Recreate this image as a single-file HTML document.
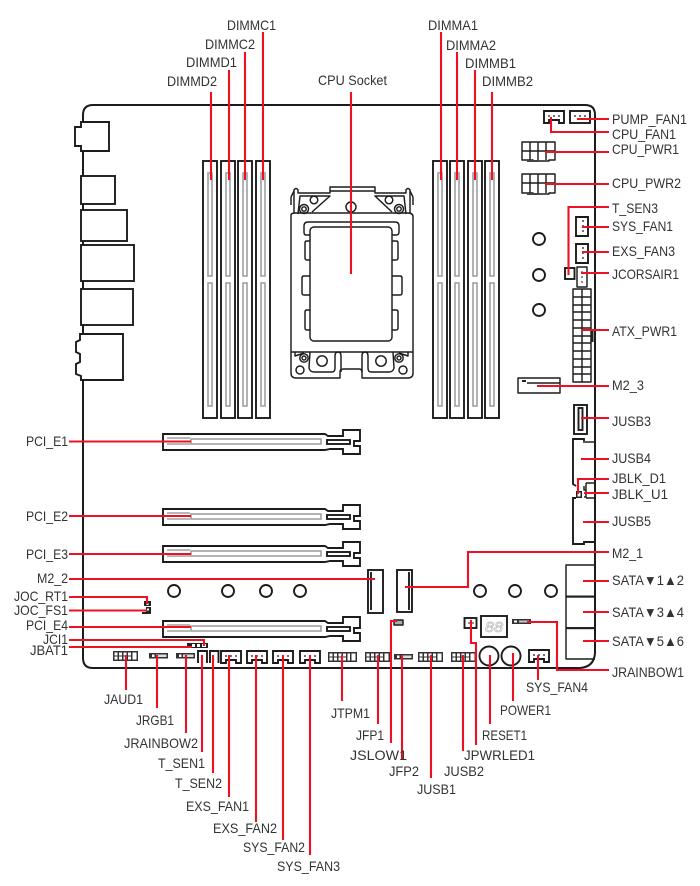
<!DOCTYPE html>
<html><head><meta charset="utf-8"><style>
html,body{margin:0;padding:0;background:#fff;width:700px;height:886px;overflow:hidden}
svg{display:block}
text{font-family:"Liberation Sans",sans-serif;font-size:13.8px;fill:#333}
.k{fill:none;stroke:#1c1c1c;stroke-width:1.45;stroke-linejoin:round}
.k2{fill:none;stroke:#1c1c1c;stroke-width:1.9;stroke-linejoin:miter}
.b{fill:none;stroke:#1c1c1c;stroke-width:2}
.g{fill:none;stroke:#a0a0a0;stroke-width:1.6}
.r{fill:none;stroke:#ee1122;stroke-width:2.1}
.h{fill:#333}
</style></head><body>
<svg width="700" height="886" viewBox="0 0 700 886" xmlns="http://www.w3.org/2000/svg">
<defs>
<g id="dimm"><rect class="k2" x="0" y="0" width="14" height="257"/><rect class="g" x="5" y="12" width="4" height="103"/><rect class="g" x="5" y="122" width="4" height="123"/></g>
<g id="pci"><path class="k2" d="M163,434H325L328,436H343V430H360V441H354V446H360V454H343V449H330L325,450H163Z"/><rect class="k2" x="327" y="440" width="23" height="4"/><rect class="g" x="191" y="439" width="130" height="5"/><path class="g" d="M167,438H190M167,444H190"/></g>
<g id="fan"><path class="k2" d="M0,12V0H20V12H15V9H5V12Z"/><circle cx="5" cy="5" r="1" fill="#444"/><circle cx="10" cy="5" r="1" fill="#444"/><circle cx="15" cy="5" r="1" fill="#444"/></g>
<g id="fanv"><path class="k2" d="M0,0H12V19H0V0Z"/><circle cx="7" cy="4" r="1" fill="#444"/><circle cx="7" cy="9" r="1" fill="#444"/><circle cx="7" cy="14" r="1" fill="#444"/></g>
<g id="hdr"><rect class="h" x="0" y="0" width="25" height="10"/><rect x="1.5" y="1.5" width="3" height="3" fill="#fff"/><rect x="1.5" y="5.5" width="3" height="3" fill="#fff"/><rect x="6" y="1.5" width="3" height="3" fill="#fff"/><rect x="6" y="5.5" width="3" height="3" fill="#fff"/><rect x="10.5" y="1.5" width="3" height="3" fill="#fff"/><rect x="10.5" y="5.5" width="3" height="3" fill="#fff"/><rect x="15" y="1.5" width="3" height="3" fill="#fff"/><rect x="15" y="5.5" width="3" height="3" fill="#fff"/><rect x="19.5" y="1.5" width="4" height="7" fill="#fff"/></g>
<g id="rgb"><rect x="0" y="0" width="19" height="5.5" fill="#333"/><rect x="3" y="1.5" width="2.5" height="2.5" fill="#fff"/><rect x="7" y="1.5" width="10.5" height="2.5" fill="#ddd"/></g>
</defs>

<!-- board outline -->
<path class="b" d="M83,122V115Q83,105 93,105H585Q595,105 595,115V653Q594,667 580,668H93Q83,668 83,658V122"/>

<!-- rear IO -->
<path class="k2" style="fill:#fff" d="M81,122H109V151H81V146H75V127H81Z"/>
<rect class="k2" style="fill:#fff" x="81" y="176" width="34" height="28"/>
<rect class="k2" style="fill:#fff" x="81" y="210" width="46" height="31"/>
<rect class="k2" style="fill:#fff" x="81" y="245" width="53" height="36"/>
<rect class="k2" style="fill:#fff" x="81" y="289" width="52" height="36"/>
<path class="k2" style="fill:#fff" d="M80,334H123V380H81V376L76,374V364L80,362V354L76,352V342L80,340Z"/>

<!-- DIMMs -->
<use href="#dimm" x="203" y="161"/><use href="#dimm" x="221" y="161"/><use href="#dimm" x="238" y="161"/><use href="#dimm" x="256" y="161"/>
<use href="#dimm" x="433" y="161"/><use href="#dimm" x="450" y="161"/><use href="#dimm" x="468" y="161"/><use href="#dimm" x="485" y="161"/>

<!-- CPU socket -->
<path class="k" d="M291,215Q291,213 296,213H408Q413,213 413,217V352H291Z"/>
<path class="k" d="M291,352V373Q291,378 296,378H340V372Q340,369 344,369H359Q362,369 362,372V378H408Q413,378 413,373V352"/>
<path class="k" d="M294,213V190Q296,187 298,190V193H330V187H375V193H406V190Q408,187 410,190V213"/>
<path class="k" d="M291,197L294,191M291,197V205M413,197L410,191M413,197V205"/>
<path class="k" d="M298,214L300,196H330L312,212M406,214L404,196H375L392,212"/>
<path class="k" d="M330,191H375"/>
<path class="k" d="M310,235H306Q304,235 304,232V226Q304,222 308,222H395Q399,222 399,226V232Q399,235 396,235H392"/>
<rect class="k" x="310" y="227" width="82" height="114" rx="4"/>
<path class="k" d="M310,241H307Q305,241 305,243V258Q305,260 307,260H310M310,276H304Q302,276 302,278V293Q302,295 304,295H310M310,310H307Q305,310 305,312V328Q305,330 307,330H310"/>
<path class="k" d="M392,241H396Q398,241 398,243V258Q398,260 396,260H392M392,276H400Q402,276 402,278V293Q402,295 400,295H392M392,310H396Q398,310 398,312V328Q398,330 396,330H392"/>
<circle class="k" cx="314" cy="200" r="3.8"/><circle class="k" cx="304" cy="209" r="4.5"/><circle class="k" cx="304" cy="209" r="2.2"/>
<circle class="k" cx="389" cy="200" r="3.8"/><circle class="k" cx="399" cy="209" r="4.5"/><circle class="k" cx="399" cy="209" r="2.2"/>
<circle class="k" cx="351" cy="207" r="5"/>
<circle class="k" cx="322" cy="361" r="5.2"/><circle class="k" cx="381" cy="361" r="5.2"/>
<circle class="k" cx="304" cy="358" r="4.2"/><circle class="k" cx="304" cy="358" r="2"/><circle class="k" cx="399" cy="358" r="4.2"/><circle class="k" cx="399" cy="358" r="2"/>
<circle class="k" cx="300" cy="370" r="4"/><circle class="k" cx="403" cy="370" r="4"/>
<path class="k" d="M295,352V356L304,353M408,352V356L399,353"/>
<path class="k" d="M310,352L309,368Q310,372 314,372H332Q335,372 335,368V356Q335,352 338,352Q341,352 341,356V372"/>
<path class="k" d="M393,352L394,368Q393,372 389,372H371Q368,372 368,368V356Q368,352 365,352Q362,352 362,356V372"/>

<!-- PCI slots -->
<use href="#pci"/><use href="#pci" y="75"/><use href="#pci" y="112"/><use href="#pci" y="187"/>

<!-- standoff circles -->
<circle class="k2" cx="539" cy="239" r="6"/><circle class="k2" cx="539" cy="275" r="6"/><circle class="k2" cx="539" cy="310" r="6"/>
<circle class="k2" cx="480" cy="591" r="6"/><circle class="k2" cx="515" cy="591" r="6"/><circle class="k2" cx="551" cy="591" r="6"/>
<circle class="k2" cx="174" cy="591" r="6"/><circle class="k2" cx="228" cy="591" r="6"/><circle class="k2" cx="266" cy="591" r="6"/><circle class="k2" cx="300" cy="591" r="6"/>

<!-- right edge components -->
<use href="#fan" x="544" y="111"/>
<rect class="k2" x="570" y="111" width="20" height="12"/><circle cx="575" cy="116" r="1" fill="#444"/><circle cx="580" cy="116" r="1" fill="#444"/><circle cx="585" cy="116" r="1" fill="#444"/>
<path class="k" d="M522,142H555V160H549V161H533V160H522ZM530,142V160M538,142V160M546,142V160M522,151H555"/>
<rect x="527" y="160" width="12" height="2" fill="#444"/>
<path class="k" d="M522,174H555V193H549V194H533V193H522ZM530,174V193M538,174V193M546,174V193M522,183H555"/>
<rect x="527" y="193" width="12" height="2" fill="#444"/>
<use href="#fanv" x="576" y="217"/><use href="#fanv" x="576" y="244"/>
<rect class="k2" x="565" y="268" width="9.5" height="11"/>
<rect class="k" x="577" y="267" width="10" height="20"/><circle cx="582" cy="272" r=".9" fill="#444"/><circle cx="582" cy="277" r=".9" fill="#444"/><circle cx="582" cy="282" r=".9" fill="#444"/>
<path class="k" d="M573,289H591V382H573ZM582,289V382M573,297H591M573,305H591M573,312H591M573,320H591M573,328H591M573,336H591M573,343H591M573,351H591M573,359H591M573,367H591M573,374H591"/>
<rect x="591.5" y="330" width="2" height="12" fill="#222"/>
<path class="k" d="M518,378H560V393H518Z"/><rect x="522" y="380" width="4" height="2" fill="#222"/><path class="k" d="M527,383H560"/>
<rect class="k2" x="574" y="405" width="13" height="29"/><rect class="k2" x="578.5" y="408" width="4" height="22"/>
<path class="k2" d="M584,441V439H573V484L576,486"/>
<path class="k" d="M583,442H594"/>
<path class="k2" d="M576,498H573V544H584V542H594"/>
<path class="k" d="M586,483H594M586,498H594M584,486V490H586V483M586,490V497H584"/>
<rect x="576" y="491" width="6" height="7" fill="#222"/><rect x="577.5" y="492.5" width="3" height="4" fill="#fff"/>
<path class="k" d="M594,565H566V659H595"/>
<rect x="566" y="595.5" width="29" height="2.2" fill="#222"/><rect x="566" y="627" width="29" height="2.2" fill="#222"/>
<rect class="k2" x="368" y="570" width="15" height="43"/><path class="k2" d="M371,572V610"/>
<rect class="k2" x="397" y="570" width="15" height="42"/><path class="k2" d="M409,572V610"/>
<rect class="k2" x="464.5" y="618" width="12" height="10"/><circle cx="469" cy="623" r=".9" fill="#444"/><circle cx="473" cy="623" r=".9" fill="#444"/>
<rect class="k2" x="481" y="616" width="26" height="21"/>
<text x="485" y="632" style="font-size:15px;fill:none;stroke:#bbb;stroke-width:.7;font-style:italic" textLength="18" lengthAdjust="spacingAndGlyphs">88</text>
<rect x="512" y="619" width="19" height="5" fill="#333"/><rect x="514" y="620.5" width="3" height="2" fill="#fff"/><rect x="519" y="620.5" width="10" height="2" fill="#ccc"/>
<circle class="k2" cx="489" cy="656" r="9.5"/><circle class="k2" cx="511" cy="656" r="9.5"/>
<use href="#fan" x="529" y="650"/>

<!-- bottom edge components -->
<use href="#hdr" x="113" y="651"/>
<use href="#rgb" x="149" y="653"/><use href="#rgb" x="176" y="653"/>
<path class="k2" d="M198,663V651H207V663"/><path class="k2" d="M210,663V651H218.5V663"/>
<use href="#fan" x="221" y="651"/><use href="#fan" x="247" y="651"/><use href="#fan" x="273" y="651"/><use href="#fan" x="300" y="651"/>
<use href="#hdr" x="328" y="652"/><rect class="h" x="350" y="652" width="7" height="10"/><rect x="351.5" y="653.5" width="4" height="7" fill="#fff"/>
<use href="#hdr" x="365" y="652"/>
<use href="#rgb" x="394" y="654"/>
<use href="#hdr" x="418" y="652"/><use href="#hdr" x="451" y="652"/>
<rect x="144" y="601" width="7" height="5" fill="#222"/><rect x="146" y="607" width="5" height="5" fill="#222"/><rect x="142" y="612" width="9" height="2" fill="#222"/><rect x="147" y="608.5" width="2" height="2" fill="#fff"/><rect x="146.5" y="603" width="2" height="2" fill="#fff"/>
<rect x="187" y="643" width="21" height="5" fill="#222"/><rect x="192" y="644" width="3" height="3" fill="#fff"/><rect x="197" y="644" width="3" height="3" fill="#fff"/><rect x="202" y="644" width="4" height="3" fill="#fff"/>
<rect class="k" x="394" y="620" width="9" height="5" style="fill:#aaa"/>

<!-- red leaders -->
<path class="r" d="M211,92V180M229,70V180M245,52V180M263,32V180M351,92V274M441,32V180M457,52V180M475,70V180M492,92V180"/>
<path class="r" d="M577,119H609M551,117V132H609M545,152H609M545,184H609M568.5,275V207H609M582,227H609M582,252H609M581,273H609M581,330H609M537,386H609M581,418H609M581,459H609M578,494V479H609M584,493H609M583,522H609M405,587H468V552H609M583,581H609M583,612H609M583,641H609M527,622H557V670H609"/>
<path class="r" d="M69,441.5H191M69,516H191M69,554H191M69,579H375M69,597H147V604M69,610.5H147M69,627H191M69,640H204V646M69,647H192"/>
<path class="r" d="M126,655V690M157,655V708M186,655V733M202,655V752M213,655V773M229,655V797M256,655V822M283,655V840M310,655V855M342,655V701M378,655V724M391,743V621H397M402,655V760M431,655V778M463,655V751M471,620V643H476V745M490,655V724M513,653V701M538,655V680"/>

<!-- labels -->
<g>
<text x="227" y="30" textLength="49" lengthAdjust="spacingAndGlyphs">DIMMC1</text>
<text x="205" y="49" textLength="50" lengthAdjust="spacingAndGlyphs">DIMMC2</text>
<text x="186" y="67" textLength="51" lengthAdjust="spacingAndGlyphs">DIMMD1</text>
<text x="167" y="86" textLength="50" lengthAdjust="spacingAndGlyphs">DIMMD2</text>
<text x="318" y="85" textLength="69" lengthAdjust="spacingAndGlyphs">CPU Socket</text>
<text x="428" y="30" textLength="50" lengthAdjust="spacingAndGlyphs">DIMMA1</text>
<text x="446" y="50" textLength="50" lengthAdjust="spacingAndGlyphs">DIMMA2</text>
<text x="465" y="68" textLength="51" lengthAdjust="spacingAndGlyphs">DIMMB1</text>
<text x="482" y="86" textLength="51" lengthAdjust="spacingAndGlyphs">DIMMB2</text>

<text x="612" y="124" textLength="75" lengthAdjust="spacingAndGlyphs">PUMP_FAN1</text>
<text x="612" y="139" textLength="64" lengthAdjust="spacingAndGlyphs">CPU_FAN1</text>
<text x="612" y="154" textLength="67" lengthAdjust="spacingAndGlyphs">CPU_PWR1</text>
<text x="612" y="188" textLength="69" lengthAdjust="spacingAndGlyphs">CPU_PWR2</text>
<text x="612" y="213" textLength="46" lengthAdjust="spacingAndGlyphs">T_SEN3</text>
<text x="612" y="231" textLength="61" lengthAdjust="spacingAndGlyphs">SYS_FAN1</text>
<text x="612" y="256" textLength="63" lengthAdjust="spacingAndGlyphs">EXS_FAN3</text>
<text x="612" y="279" textLength="67" lengthAdjust="spacingAndGlyphs">JCORSAIR1</text>
<text x="612" y="336" textLength="65" lengthAdjust="spacingAndGlyphs">ATX_PWR1</text>
<text x="612" y="390" textLength="32" lengthAdjust="spacingAndGlyphs">M2_3</text>
<text x="612" y="426" textLength="39" lengthAdjust="spacingAndGlyphs">JUSB3</text>
<text x="612" y="463" textLength="39" lengthAdjust="spacingAndGlyphs">JUSB4</text>
<text x="612" y="483" textLength="54" lengthAdjust="spacingAndGlyphs">JBLK_D1</text>
<text x="612" y="499" textLength="56" lengthAdjust="spacingAndGlyphs">JBLK_U1</text>
<text x="612" y="526" textLength="39" lengthAdjust="spacingAndGlyphs">JUSB5</text>
<text x="612" y="558" textLength="31" lengthAdjust="spacingAndGlyphs">M2_1</text>
<text x="612" y="585" textLength="72" lengthAdjust="spacingAndGlyphs" style="font-family:'Liberation Sans','DejaVu Sans',sans-serif">SATA▼1▲2</text>
<text x="612" y="617" textLength="72" lengthAdjust="spacingAndGlyphs" style="font-family:'Liberation Sans','DejaVu Sans',sans-serif">SATA▼3▲4</text>
<text x="612" y="646" textLength="72" lengthAdjust="spacingAndGlyphs" style="font-family:'Liberation Sans','DejaVu Sans',sans-serif">SATA▼5▲6</text>
<text x="612" y="677" textLength="72" lengthAdjust="spacingAndGlyphs">JRAINBOW1</text>

<text x="26" y="446" textLength="42" lengthAdjust="spacingAndGlyphs">PCI_E1</text>
<text x="26" y="521" textLength="42" lengthAdjust="spacingAndGlyphs">PCI_E2</text>
<text x="26" y="559" textLength="42" lengthAdjust="spacingAndGlyphs">PCI_E3</text>
<text x="37" y="583" textLength="31" lengthAdjust="spacingAndGlyphs">M2_2</text>
<text x="14" y="601" textLength="54" lengthAdjust="spacingAndGlyphs">JOC_RT1</text>
<text x="14" y="615" textLength="54" lengthAdjust="spacingAndGlyphs">JOC_FS1</text>
<text x="26" y="630" textLength="42" lengthAdjust="spacingAndGlyphs">PCI_E4</text>
<text x="43" y="644" textLength="25" lengthAdjust="spacingAndGlyphs">JCI1</text>
<text x="30" y="655" textLength="38" lengthAdjust="spacingAndGlyphs">JBAT1</text>

<text x="104" y="704" textLength="39" lengthAdjust="spacingAndGlyphs">JAUD1</text>
<text x="136" y="725" textLength="38" lengthAdjust="spacingAndGlyphs">JRGB1</text>
<text x="124" y="748" textLength="74" lengthAdjust="spacingAndGlyphs">JRAINBOW2</text>
<text x="158" y="768" textLength="47" lengthAdjust="spacingAndGlyphs">T_SEN1</text>
<text x="175" y="788" textLength="47" lengthAdjust="spacingAndGlyphs">T_SEN2</text>
<text x="186" y="811" textLength="63" lengthAdjust="spacingAndGlyphs">EXS_FAN1</text>
<text x="213" y="833" textLength="64" lengthAdjust="spacingAndGlyphs">EXS_FAN2</text>
<text x="243" y="852" textLength="62" lengthAdjust="spacingAndGlyphs">SYS_FAN2</text>
<text x="277" y="871" textLength="63" lengthAdjust="spacingAndGlyphs">SYS_FAN3</text>
<text x="331" y="718" textLength="39" lengthAdjust="spacingAndGlyphs">JTPM1</text>
<text x="356" y="740" textLength="28" lengthAdjust="spacingAndGlyphs">JFP1</text>
<text x="350" y="760" textLength="57" lengthAdjust="spacingAndGlyphs">JSLOW1</text>
<text x="389" y="776" textLength="30" lengthAdjust="spacingAndGlyphs">JFP2</text>
<text x="417" y="794" textLength="39" lengthAdjust="spacingAndGlyphs">JUSB1</text>
<text x="444" y="776" textLength="40" lengthAdjust="spacingAndGlyphs">JUSB2</text>
<text x="464" y="760" textLength="71" lengthAdjust="spacingAndGlyphs">JPWRLED1</text>
<text x="482" y="740" textLength="45" lengthAdjust="spacingAndGlyphs">RESET1</text>
<text x="500" y="715" textLength="51" lengthAdjust="spacingAndGlyphs">POWER1</text>
<text x="526" y="692" textLength="62" lengthAdjust="spacingAndGlyphs">SYS_FAN4</text>
</g>
</svg>
</body></html>
